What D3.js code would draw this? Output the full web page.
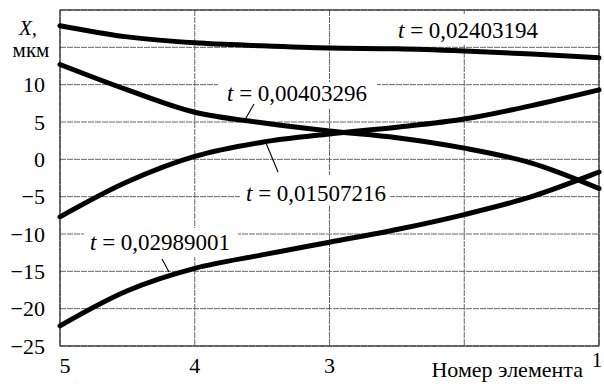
<!DOCTYPE html>
<html><head><meta charset="utf-8">
<script src="https://cdn.jsdelivr.net/npm/d3@7"></script>
</head>
<body style="margin:0">
<svg id="c" width="604" height="386"></svg>
<script>
// element numbers (x, reversed axis) at which values are read
const elements = [5, 4.5, 4, 3.5, 3, 2.5, 2, 1.5, 1];
// displacement X, мкм for each time instant
const series_t02403194 = [17.9, 16.4, 15.6, 15.2, 14.9, 14.8, 14.5, 14.1, 13.6];
const series_t00403296 = [12.7, 9.3, 6.3, 4.9, 3.8, 2.9, 1.5, -0.5, -3.9];
const series_t01507216 = [-7.7, -3.0, 0.4, 2.3, 3.4, 4.3, 5.4, 7.2, 9.3];
const series_t02989001 = [-22.3, -17.6, -14.6, -12.8, -11.1, -9.4, -7.4, -5.0, -1.7];
const seriesLabels = ["0,02403194", "0,00403296", "0,01507216", "0,02989001"];
const yTicks = [10, 5, 0, -5, -10, -15, -20, -25];
const yGrid = [20, 15, 10, 5, 0, -5, -10, -15, -20, -25];
const xGrid = [5, 4, 3, 2, 1];
const xTickLabels = [5, 4, 3];
const xTitle = "Номер элемента";
const yTitle1 = "X,";
const yTitle2 = "мкм";

const svg = d3.select("#c");
const L = 60, R = 599, T = 10, B = 346;
const x = d3.scaleLinear().domain([5, 1]).range([L, R]);
const y = d3.scaleLinear().domain([-25, 20]).range([B, T]);

function txt(sel, size) {
  return sel.style("font-family", d => '"Liberation Serif"').style("font-size", size + "px").attr("fill", "#000");
}

// grid
const g = svg.append("g");
g.selectAll("line.h").data(yGrid).join("line")
  .attr("x1", L).attr("x2", R).attr("y1", d => y(d)).attr("y2", d => y(d))
  .attr("stroke", "#555").attr("stroke-width", 0.9).attr("stroke-dasharray", "6,1");
g.selectAll("line.v").data(xGrid).join("line")
  .attr("y1", T).attr("y2", B).attr("x1", d => x(d)).attr("x2", d => x(d))
  .attr("stroke", "#555").attr("stroke-width", 0.9).attr("stroke-dasharray", "6,1");
svg.append("rect").attr("x", L).attr("y", T).attr("width", R - L).attr("height", B - T)
  .attr("fill", "none").attr("stroke", "#222").attr("stroke-width", 1.1);

// label boxes (white) and labels
const labels = [
  {txt: seriesLabels[0], lx: 398, ly: 38, box: [392, 14, 160, 30]},
  {txt: seriesLabels[1], lx: 227, ly: 101, box: [218, 82, 159, 27]},
  {txt: seriesLabels[2], lx: 246, ly: 201, box: [240, 175, 150, 30]},
  {txt: seriesLabels[3], lx: 90, ly: 250, box: [84, 228, 154, 29]}
];
svg.selectAll("rect.lb").data(labels).join("rect")
  .attr("x", d => d.box[0]).attr("y", d => d.box[1]).attr("width", d => d.box[2]).attr("height", d => d.box[3]).attr("fill", "#fff");

// curves
const line = d3.line().x(d => x(d[0])).y(d => y(d[1])).curve(d3.curveCatmullRom.alpha(0.5));
[series_t02403194, series_t00403296, series_t01507216, series_t02989001].forEach(s => {
  svg.append("path").datum(elements.map((e, i) => [e, s[i]]))
    .attr("d", line).attr("fill", "none").attr("stroke", "#000").attr("stroke-width", 5)
    .attr("stroke-linecap", "round").attr("stroke-linejoin", "round");
});

const lt = svg.selectAll("text.lbl").data(labels).join("text")
  .attr("x", d => d.lx).attr("y", d => d.ly);
txt(lt, 23);
lt.append("tspan").style("font-style", "italic").text("t");
lt.append("tspan").text(d => " = " + d.txt);

// leader lines
const leaders = [[254, 104, 246, 118], [266, 143, 278, 172], [162, 259, 169, 272]];
svg.selectAll("line.ld").data(leaders).join("line")
  .attr("x1", d => d[0]).attr("y1", d => d[1]).attr("x2", d => d[2]).attr("y2", d => d[3])
  .attr("stroke", "#000").attr("stroke-width", 1.1);

// y axis labels
const yl = svg.selectAll("text.yt").data(yTicks).join("text")
  .attr("x", L - 15).attr("y", d => y(d)).attr("dy", "0.35em").attr("text-anchor", "end")
  .text(d => d3.format("d")(d));
txt(yl, 22);
txt(svg.selectAll("text.yt1").data([yTitle1]).join("text").attr("x", 28).attr("y", 35).attr("text-anchor", "middle"), 21)
  .style("font-style", "italic").text(d => d);
txt(svg.selectAll("text.yt2").data([yTitle2]).join("text").attr("x", 31).attr("y", 57).attr("text-anchor", "middle"), 21).text(d => d);

// x axis labels
const xl = svg.selectAll("text.xt").data(xTickLabels).join("text")
  .attr("x", d => x(d) + (d === 5 ? 5 : 0)).attr("y", 373).attr("text-anchor", "middle").text(d => d);
txt(xl, 22);
txt(svg.selectAll("text.xtt").data([xTitle]).join("text").attr("x", 583).attr("y", 377).attr("text-anchor", "end"), 22).text(d => d);
txt(svg.selectAll("text.x1").data([1]).join("text").attr("x", 597).attr("y", 367).attr("text-anchor", "middle"), 21).text(d => d);
</script>
</body></html>
